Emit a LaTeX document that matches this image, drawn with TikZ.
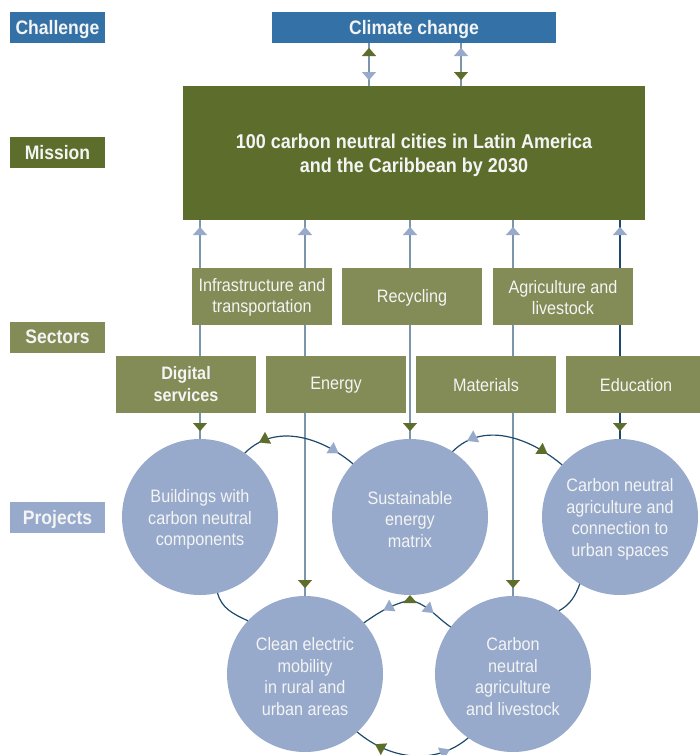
\documentclass[tikz,border=0pt]{standalone}
\usepackage{fontspec}
\setmainfont{Liberation Sans}[FakeStretch=0.9]
\usetikzlibrary{arrows.meta,decorations.markings,backgrounds}
\definecolor{cblue}{HTML}{3471A7}
\definecolor{mgreen}{HTML}{5D6E2C}
\definecolor{sgreen}{HTML}{838C56}
\definecolor{pblue}{HTML}{97AACB}
\definecolor{steel}{HTML}{7B95AA}
\definecolor{navy}{HTML}{1D4A6C}
\definecolor{txt}{HTML}{F4F4F4}
\newcommand\tup{\rule{0pt}{18pt}}
\newcommand\secup{\rule{0pt}{15pt}}
\tikzset{
  GT/.tip={Triangle[width=14pt,length=8pt,line width=0.01pt,color=mgreen]},
  BT/.tip={Triangle[width=14pt,length=8pt,line width=0.01pt,color=pblue]},
  GTs/.tip={Triangle[width=13pt,length=10pt,line width=0.01pt,color=mgreen]},
  BTs/.tip={Triangle[width=13pt,length=10pt,line width=0.01pt,color=pblue]},
  lab/.style={rectangle, minimum width=95pt, minimum height=31pt, inner sep=0pt, outer sep=0pt, text=txt, text depth=0pt, font=\fontsize{19.5}{22}\selectfont\bfseries},
  sect/.style={rectangle, fill=sgreen, minimum width=140pt, minimum height=57pt, inner sep=0pt, outer sep=0pt, text=txt, align=center, font=\fontsize{18}{21.7}\selectfont},
  proj/.style={circle, fill=pblue, minimum size=156pt, inner sep=0pt, outer sep=0pt, text=txt, align=center, font=\fontsize{18}{21.7}\selectfont},
  vline/.style={draw=steel, line width=1.8pt},
  arcline/.style={draw=navy, line width=1.2pt},
}
\begin{document}
\begin{tikzpicture}[x=1pt,y=1pt]
\useasboundingbox (0,0) rectangle (699,-755);
% left labels
\node[lab, fill=cblue] (lchal) at (57.5,-27.5) {Challenge};
\node[lab, fill=mgreen] (lmis) at (57.5,-152.5) {Mission};
\node[lab, fill=sgreen] (lsec) at (57.5,-337) {Sectors};
\node[lab, fill=pblue] (lproj) at (57.5,-517.5) {Projects};
% challenge and mission
\node[lab, fill=cblue, minimum width=284pt] (climate) at (414,-27.5) {Climate change};
\node[rectangle, fill=mgreen, minimum width=462pt, minimum height=134pt, inner sep=0pt, outer sep=0pt, text=txt, align=center, font=\fontsize{20}{24}\selectfont\bfseries] (mission) at (414,-153) {\rule{0pt}{20pt}100 carbon neutral cities in Latin America\\and the Caribbean by 2030};
% sectors
\node[sect] (infra) at (262,-296.5) {\secup Infrastructure and\\transportation};
\node[sect] (recy) at (412,-296.5) {\secup Recycling};
\node[sect] (agri) at (563,-296.5) {\secup Agriculture and\\livestock};
\node[sect, font=\fontsize{18}{21.7}\selectfont\bfseries] (digi) at (186,-384) {Digital\\services};
\node[sect] (ener) at (336,-384) {\secup Energy};
\node[sect] (mate) at (486,-384) {\secup Materials};
\node[sect] (educ) at (636,-384) {\secup Education};
% projects
\node[proj] (b) at (200,-517) {\tup Buildings with\\carbon neutral\\components};
\node[proj] (s) at (410,-517) {\tup Sustainable\\energy\\matrix};
\node[proj] (a) at (620,-517) {\tup Carbon neutral\\agriculture and\\connection to\\urban spaces};
\node[proj] (c) at (305,-674) {\tup Clean electric\\mobility\\in rural and\\urban areas};
\node[proj] (l) at (513,-674) {\tup Carbon\\neutral\\agriculture\\and livestock};
\coordinate (xL) at (369,0);
\coordinate (xR) at (461,0);
\coordinate (j) at (410,-600);
\begin{scope}[on background layer]
\fill[white] (0,0) rectangle (699,-755);
\foreach \n/\col in {b/steel, c/steel, s/steel, l/steel, a/navy}{
  \draw[vline, draw=\col, postaction=decorate, decoration={markings,
     mark=at position 8pt with {\arrowreversed{GT}},
     mark=at position -7pt with {\arrow{BT}}}] (\n.north) -- (\n.north |- mission.south);
}
\draw[vline, postaction=decorate, decoration={markings,
   mark=at position 6pt with {\arrowreversed{BT}},
   mark=at position -5pt with {\arrow{GT}}}] (mission.north -| xL) -- (climate.south -| xL);
\draw[vline, postaction=decorate, decoration={markings,
   mark=at position 6pt with {\arrowreversed{GT}},
   mark=at position -5pt with {\arrow{BT}}}] (mission.north -| xR) -- (climate.south -| xR);
\end{scope}
% arcs between projects
\draw[arcline, postaction=decorate, decoration={markings,
   mark=at position 0.15 with {\arrowreversed{GTs}},
   mark=at position 0.85 with {\arrow{BTs}}}] (b.55) to[out=45,in=140] (s.137);
\draw[arcline, postaction=decorate, decoration={markings,
   mark=at position 0.15 with {\arrowreversed{BTs}},
   mark=at position 0.85 with {\arrow{GTs}}}] (s.57) to[out=45,in=140] (a.138);
\draw[arcline] (b.-77) to[out=-75,in=155] (c.137);
\draw[arcline] (a.-121) to[out=-110,in=30] (l.54);
\draw[arcline, postaction=decorate, decoration={markings,
   mark=at position 0.55 with {\arrow{BTs}}}] (j) to[out=195,in=35] (c.41);
\draw[arcline, postaction=decorate, decoration={markings,
   mark=at position 0.55 with {\arrow{BTs}}}] (j) to[out=-15,in=145] (l.143);
\fill[mgreen] (s.south) -- ++(-7,-8) -- ++(14,0) -- cycle;
\draw[arcline, postaction=decorate, decoration={markings,
   mark=at position 0.18 with {\arrowreversed{GTs}},
   mark=at position 0.82 with {\arrow{BTs}}}] (c.-48) to[out=-40,in=-140] (l.-125);
\end{tikzpicture}
\end{document}
